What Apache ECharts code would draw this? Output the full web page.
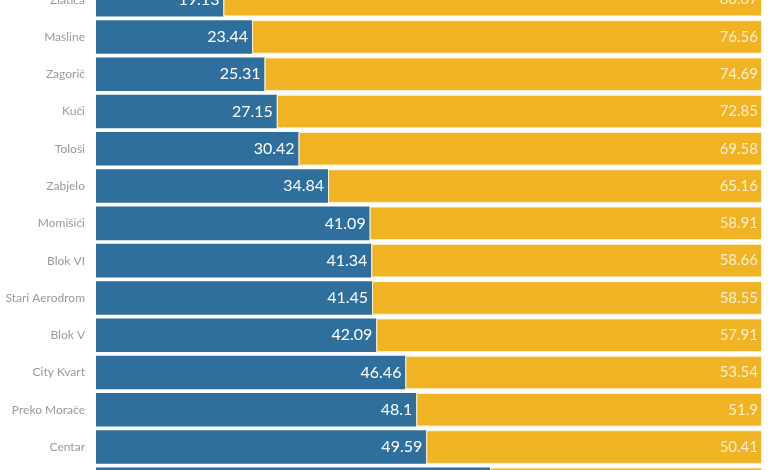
<!DOCTYPE html>
<html>
<head>
<meta charset="utf-8">
<script src="https://cdn.jsdelivr.net/npm/echarts@6/dist/echarts.min.js"></script>
<style>
  html, body { margin: 0; padding: 0; background: #fff; }
  #chart { width: 780px; height: 470px; }
</style>
</head>
<body>
<div id="chart"></div>
<script>
// neighbourhoods, top to bottom
const categories = ['Zlatica', 'Masline', 'Zagorič', 'Kuči', 'Tološi', 'Zabjelo', 'Momišići',
  'Blok VI', 'Stari Aerodrom', 'Blok V', 'City Kvart', 'Preko Morače', 'Centar', 'Donja Gorica']
const blueValues = [19.13, 23.44, 25.31, 27.15, 30.42, 34.84, 41.09, 41.34, 41.45, 42.09, 46.46, 48.1, 49.59, 59.16]
const yellowValues = [80.87, 76.56, 74.69, 72.85, 69.58, 65.16, 58.91, 58.66, 58.55, 57.91, 53.54, 51.9, 50.41, 40.84]

const chart = echarts.init(document.getElementById('chart'))

chart.setOption({
  animation: false,
  backgroundColor: '#fff',
  textStyle: { fontFamily: 'Lato' },
  grid: { left: 96, right: 18, top: -19, height: 522, outerBoundsMode: 'none' },
  xAxis: { type: 'value', min: 0, max: 100, show: false },
  yAxis: {
    type: 'category',
    data: categories,
    inverse: true,
    axisLine: { show: false },
    axisTick: { show: false },
    axisLabel: { color: '#9a9a9a', fontSize: 12, margin: 11 }
  },
  series: [
    {
      type: 'bar',
      stack: 'total',
      data: blueValues,
      barCategoryGap: '10%',
      itemStyle: { color: '#2f6f9e' },
      label: {
        show: true,
        position: 'insideRight',
        distance: 4,
        color: '#fff',
        fontSize: 16
      }
    },
    {
      type: 'bar',
      stack: 'total',
      data: yellowValues,
      barCategoryGap: '10%',
      itemStyle: { color: '#efb324', borderColor: '#fbf1d6', borderWidth: 1 },
      label: {
        show: true,
        position: 'insideRight',
        distance: 4,
        color: '#fcefcf',
        fontSize: 15
      }
    }
  ]
})
</script>
</body>
</html>
